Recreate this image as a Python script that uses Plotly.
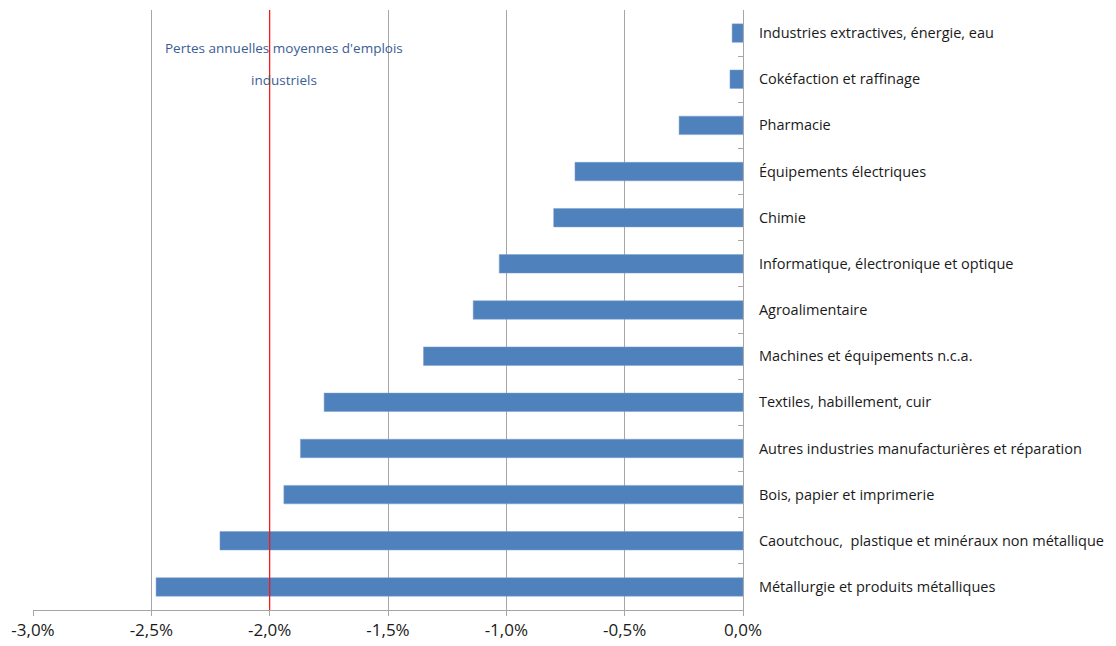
import plotly.graph_objects as go

categories = [
    "Industries extractives, énergie, eau",
    "Cokéfaction et raffinage",
    "Pharmacie",
    "Équipements électriques",
    "Chimie",
    "Informatique, électronique et optique",
    "Agroalimentaire",
    "Machines et équipements n.c.a.",
    "Textiles, habillement, cuir",
    "Autres industries manufacturières et réparation",
    "Bois, papier et imprimerie",
    "Caoutchouc,  plastique et minéraux non métallique",
    "Métallurgie et produits métalliques",
]
values = [-0.046, -0.055, -0.27, -0.71, -0.80, -1.03, -1.14, -1.35, -1.77, -1.87, -1.94, -2.21, -2.48]

x_tickvals = [-3.0, -2.5, -2.0, -1.5, -1.0, -0.5, 0.0]
x_ticktext = ["-3,0%", "-2,5%", "-2,0%", "-1,5%", "-1,0%", "-0,5%", "0,0%"]

avg_loss = -2.0
note_lines = ["Pertes annuelles moyennes d'emplois", "industriels"]
note_x = -1.94

FONT = "Open Sans"

fig = go.Figure()
fig.add_trace(go.Bar(
    x=values, y=categories, orientation="h",
    marker=dict(color="#4f81bd", line=dict(color="#7a9fd0", width=0.5)),
    width=0.4, showlegend=False, hoverinfo="x+y",
))

fig.add_shape(type="line", xref="x", yref="paper", x0=avg_loss, x1=avg_loss, y0=0, y1=1,
              line=dict(color="#ff1010", width=1.2), layer="above")

fig.add_annotation(x=note_x, xref="x", y=1 - 27 / 600, yref="y domain", text=note_lines[0],
                   showarrow=False, font=dict(family=FONT, size=13.5, color="#3a5d96"))
fig.add_annotation(x=note_x, xref="x", y=1 - 59 / 600, yref="y domain", text=note_lines[1],
                   showarrow=False, font=dict(family=FONT, size=13.5, color="#3a5d96"))

fig.update_layout(
    width=1116, height=646,
    margin=dict(l=25, r=381, t=2, b=44),
    paper_bgcolor="white", plot_bgcolor="white",
    font=dict(family=FONT, color="#1a1a1a"),
    bargap=0.6,
    xaxis=dict(
        range=[-3.0, 0.0], tickvals=x_tickvals, ticktext=x_ticktext,
        showgrid=True, gridcolor="#a6a6a6", gridwidth=1,
        zeroline=False, showline=True, linecolor="#a6a6a6", linewidth=1,
        ticks="outside", ticklen=5, tickcolor="#a6a6a6",
        tickfont=dict(family=FONT, size=17, color="#1a1a1a"),
    ),
    yaxis=dict(
        type="category", autorange="reversed", side="right",
        showgrid=False, zeroline=False, showline=True, linecolor="#a6a6a6", linewidth=1,
        ticks="inside", ticklen=5, tickcolor="#a6a6a6", tickson="boundaries",
        tickfont=dict(family=FONT, size=14.5, color="#1a1a1a"), ticklabelstandoff=12,
    ),
)

fig.write_html("out.html")
